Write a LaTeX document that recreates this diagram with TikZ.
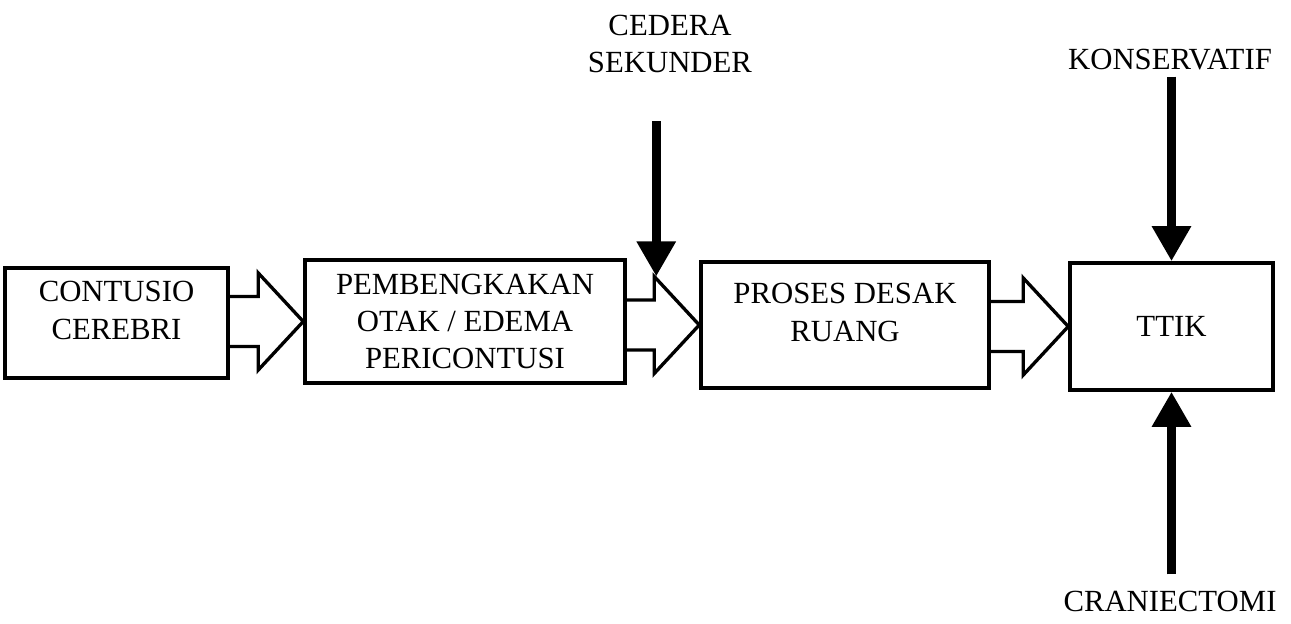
\documentclass[tikz,border=0pt]{standalone}
\usepackage{fontspec}
\setmainfont{Liberation Serif}
\usepackage{tikz}
\usetikzlibrary{arrows.meta, positioning, calc}
\tikzset{
    txt/.style={font=\fontsize{17.5}{21.3}\selectfont, align=center},
    box/.style={rectangle, draw, line width=2pt, txt, inner sep=0pt},
    hollow/.style={line width=1.9pt, line join=miter},
    thickarrow/.style={line width=5pt, -{Triangle[width=0.74cm, length=0.7cm]}}
}

\begin{document}
\begin{tikzpicture}
        \useasboundingbox (0,0) rectangle (25.82,-12.48);

        % Main chain
        \node (b1) [box, minimum width=4.46cm, minimum height=2.2cm, text depth=0.5cm] at (2.33,-6.46) {CONTUSIO\\CEREBRI};
        \node (b2) [box, minimum width=6.4cm, minimum height=2.46cm] at (9.3,-6.43) {PEMBENGKAKAN\\OTAK / EDEMA\\PERICONTUSI};
        \node (b3) [box, minimum width=5.76cm, minimum height=2.52cm, text depth=0.5cm] at (16.9,-6.5) {PROSES DESAK\\RUANG};
        \node (b4) [box, minimum width=4.06cm, minimum height=2.54cm] at (23.43,-6.53) {TTIK};

        % Hollow arrows between boxes
        \foreach \a/\b/\n in {b1/b2/h1, b2/b3/h2, b3/b4/h3} {
            \coordinate (\n-tip) at (\b.west);
            \coordinate (\n-tu) at ($(\b.west)+(-0.9,0.5)$);
            \coordinate (\n-bu) at ($(\b.west)+(-0.9,-0.5)$);
            \coordinate (\n-top) at ($(\b.west)+(-0.9,0.97)$);
            \coordinate (\n-bot) at ($(\b.west)+(-0.9,-0.97)$);
            \draw[hollow] (\a.east |- \n-tu) -- (\n-tu) -- (\n-top) -- (\n-tip)
                -- (\n-bot) -- (\n-bu) -- (\a.east |- \n-bu);
        }

        % Outside influences
        \node (cedera) [txt] at (13.4,-0.88) {CEDERA\\SEKUNDER};
        \coordinate (cedera-start) at ($(h2-top)+(0.04,3.1)$);
        \draw[thickarrow] (cedera-start) -- ($(h2-top)+(0.04,0)$);

        \node (kons) [txt] at (23.4,-1.2) {KONSERVATIF};
        \draw[thickarrow] (b4.north |- kons.south) -- (b4.north);

        \node (cran) [txt] at (23.4,-12.02) {CRANIECTOMI};
        \draw[thickarrow, shorten <=0.2cm] (b4.south |- cran.north) -- (b4.south);
    \end{tikzpicture}
\end{document}
